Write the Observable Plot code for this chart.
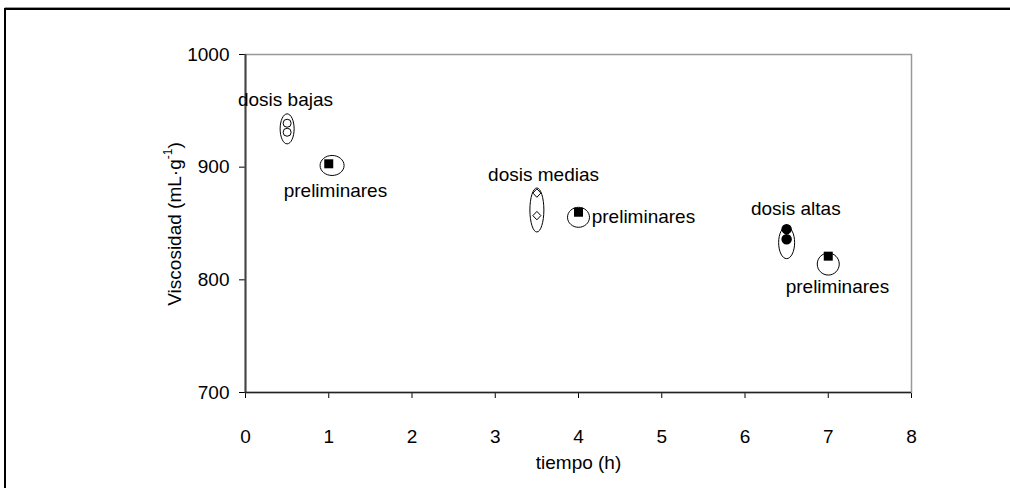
<!DOCTYPE html>
<html>
<head>
<meta charset="utf-8">
<script src="https://cdn.jsdelivr.net/npm/d3@7"></script>
<script src="https://cdn.jsdelivr.net/npm/@observablehq/plot@0.6"></script>
<style>
  html, body { margin: 0; padding: 0; background: #fff; overflow: hidden; }
  #chart { width: 1010px; height: 488px; overflow: hidden; }
  #chart svg { display: block; max-width: none !important; width: 1010px; height: 488px; }
</style>
</head>
<body>
<div id="chart"></div>
<script>
// Viscosity measurements (mL·g-1) against time (h)
const lowDoseX = [0.5, 0.5];
const lowDoseY = [939, 931];
const midDoseX = [3.5, 3.5];
const midDoseY = [877, 857];
const highDoseX = [6.5, 6.5];
const highDoseY = [845, 836];
const prelimX = [1, 4, 7];
const prelimY = [903, 860, 821];

// Group outlines (centres in data units)
const ringX = [0.5, 1.04, 3.5, 4, 6.5, 7];
const ringY = [934, 901.5, 862, 855.5, 833, 814];

// Annotation labels
const labelText = ["dosis bajas", "preliminares", "dosis medias", "preliminares", "dosis altas", "preliminares"];
const labelX = [0.48, 1.08, 3.58, 4.78, 6.61, 7.11];
const labelY = [960, 879, 893, 856, 863, 794];

const xTicks = [0, 1, 2, 3, 4, 5, 6, 7, 8];
const yTicks = [700, 800, 900, 1000];

// Outline sizes in pixels (rx, ry) for each group ring
const ringRx = [7, 12, 7, 11, 8, 11];
const ringRy = [15, 10, 22, 10, 16, 11];

const toRows = (xs, ys) => xs.map((x, i) => ({x, y: ys[i]}));

function ellipseSymbol(rx, ry) {
  const k = 0.5523;
  return {
    draw(c) {
      c.moveTo(rx, 0);
      c.bezierCurveTo(rx, ry * k, rx * k, ry, 0, ry);
      c.bezierCurveTo(-rx * k, ry, -rx, ry * k, -rx, 0);
      c.bezierCurveTo(-rx, -ry * k, -rx * k, -ry, 0, -ry);
      c.bezierCurveTo(rx * k, -ry, rx, -ry * k, rx, 0);
      c.closePath();
    }
  };
}
const diamond = {draw(c) { c.moveTo(0, -4.2); c.lineTo(4, 0); c.lineTo(0, 4.2); c.lineTo(-4, 0); c.closePath(); }};
const square = {draw(c) { c.rect(-4.5, -4.5, 9, 9); }};

const ringMarks = ringX.map((x, i) =>
  Plot.dot([{x, y: ringY[i]}], {
    x: "x", y: "y", symbol: ellipseSymbol(ringRx[i], ringRy[i]),
    fill: "none", stroke: "#000", strokeWidth: 1
  })
);

const labels = labelText.map((t, i) => ({t, x: labelX[i], y: labelY[i]}));

const plot = Plot.plot({
  width: 1010,
  height: 488,
  marginLeft: 245,
  marginRight: 99,
  marginTop: 54,
  marginBottom: 96,
  style: {fontFamily: "'Liberation Sans', Arial, sans-serif", fontSize: "19px", color: "#000", background: "#fff"},
  x: {domain: [0, 8], ticks: xTicks, tickSize: 6, tickPadding: 31, tickFormat: d => String(d), label: null},
  y: {domain: [700, 1000], ticks: yTicks, tickSize: 6, tickPadding: 10, tickFormat: d => String(d), label: null},
  marks: [
    Plot.frame({stroke: "#999", strokeWidth: 1.5}),
    Plot.ruleX([0], {stroke: "#444", strokeWidth: 2}),
    Plot.ruleY([700], {stroke: "#222", strokeWidth: 1.5}),
    ...ringMarks,
    Plot.dot(toRows(lowDoseX, lowDoseY), {x: "x", y: "y", r: 4, fill: "#fff", stroke: "#000", strokeWidth: 1}),
    Plot.dot(toRows(midDoseX, midDoseY), {x: "x", y: "y", symbol: diamond, fill: "#fff", stroke: "#000", strokeWidth: 1}),
    Plot.dot(toRows(highDoseX, highDoseY), {x: "x", y: "y", r: 4.5, fill: "#000", stroke: "#000"}),
    Plot.dot(toRows(prelimX, prelimY), {x: "x", y: "y", symbol: square, fill: "#000", stroke: "none"}),
    Plot.text(labels, {x: "x", y: "y", text: "t", fill: "#000", fontSize: 19, textAnchor: "middle"}),
    Plot.text(["tiempo (h)"], {frameAnchor: "bottom", dy: 76, fill: "#000", fontSize: 19})
  ]
});

const svg = d3.select(plot).attr("overflow", "hidden");

// outer box: only its top and left edges fall inside the page
svg.append("path").attr("d", "M5,490V8.5H1012").attr("fill", "none").attr("stroke", "#999").attr("stroke-width", 1).attr("transform", "translate(0,-1)");
svg.append("path").attr("d", "M5,490V9H1012").attr("fill", "none").attr("stroke", "#000").attr("stroke-width", 2);

// y-axis title with a superscript exponent
const yTitle = svg.append("text")
  .attr("transform", "translate(176,224) rotate(-90)")
  .attr("text-anchor", "middle")
  .attr("dominant-baseline", "middle")
  .attr("font-size", 19)
  .attr("fill", "#000");
yTitle.append("tspan").text("Viscosidad (mL·g");
yTitle.append("tspan").attr("font-size", 12).attr("dy", -7).text("-1");
yTitle.append("tspan").attr("dy", 7).text(")");

document.getElementById("chart").append(plot);
</script>
</body>
</html>
